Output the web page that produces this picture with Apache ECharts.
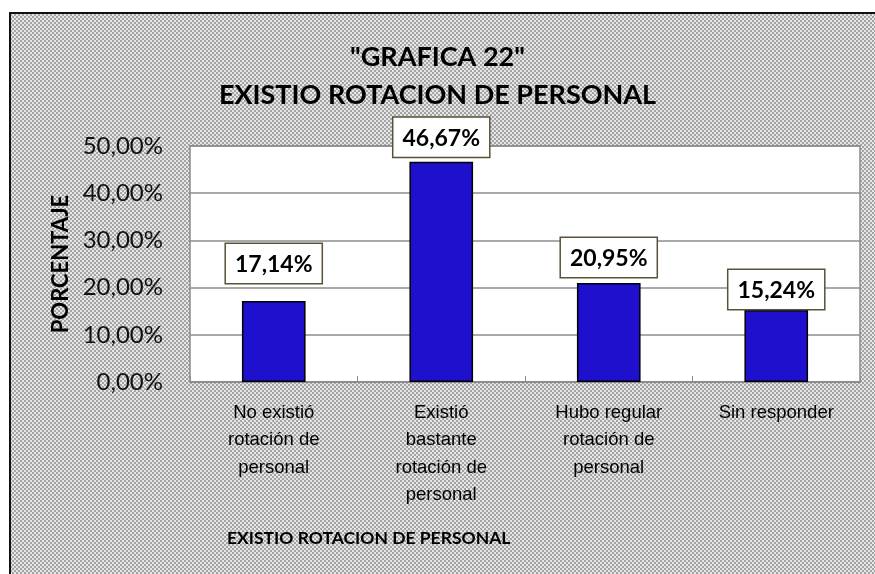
<!DOCTYPE html>
<html>
<head>
<meta charset="utf-8">
<script src="https://cdn.jsdelivr.net/npm/echarts@6/dist/echarts.min.js"></script>
<style>
  html, body { margin: 0; padding: 0; background: #fff; }
  #chart { width: 875px; height: 574px; }
</style>
</head>
<body>
<div id="chart"></div>
<script>
// datos de la grafica
const categories = [
  'No existió\nrotación de\npersonal',
  'Existió\nbastante\nrotación de\npersonal',
  'Hubo regular\nrotación de\npersonal',
  'Sin responder'
];
const values = [17.14, 46.67, 20.95, 15.24];
const yTicks = [0, 10, 20, 30, 40, 50];

// separacion de cada etiqueta respecto a la barra (estilo)
const labelGap = [18, 5, 6, 1];

const fmt = (v) => v.toFixed(2).replace('.', ',') + '%';

// fondo punteado gris
const tile = document.createElement('canvas');
tile.width = 4;
tile.height = 4;
const tctx = tile.getContext('2d');
tctx.fillStyle = '#e6e6e6';
tctx.fillRect(0, 0, 4, 4);
tctx.fillStyle = '#a4a4a4';
tctx.fillRect(0, 0, 2, 2);
tctx.fillRect(2, 2, 2, 2);

const chart = echarts.init(document.getElementById('chart'));

const titleFont = 'Lato';

chart.setOption({
  animation: false,
  backgroundColor: '#fff',
  graphic: [
    {
      type: 'rect',
      z: -10,
      shape: { x: 10, y: 13, width: 880, height: 580 },
      style: { fill: { image: tile, repeat: 'repeat' }, stroke: '#111', lineWidth: 2 }
    },
    {
      type: 'text',
      z: 100,
      left: 227,
      top: 529,
      style: {
        text: 'EXISTIO ROTACION DE PERSONAL',
        font: 'bold 17.5px ' + titleFont,
        fill: '#000'
      }
    }
  ],
  title: {
    text: '"GRAFICA 22"\nEXISTIO ROTACION DE PERSONAL',
    left: 'center',
    top: 33,
    textStyle: {
      fontFamily: titleFont,
      fontWeight: 'bold',
      fontSize: 27,
      lineHeight: 38,
      color: '#000'
    }
  },
  grid: {
    left: 190,
    top: 146,
    right: 15,
    bottom: 192,
    show: true,
    backgroundColor: '#fff',
    borderColor: '#8c8c8c',
    borderWidth: 1.5
  },
  xAxis: {
    type: 'category',
    data: categories,
    axisLine: { lineStyle: { color: '#8c8c8c', width: 1.5 } },
    axisTick: { show: true, inside: true, length: 6, lineStyle: { color: '#8c8c8c' } },
    axisLabel: {
      interval: 0,
      margin: 17,
      fontFamily: '"Liberation Sans", Arial',
      fontSize: 18.5,
      lineHeight: 27.5,
      color: '#000',
      align: 'center',
      verticalAlign: 'top'
    }
  },
  yAxis: {
    type: 'value',
    min: yTicks[0],
    max: yTicks[yTicks.length - 1],
    interval: yTicks[1] - yTicks[0],
    name: 'PORCENTAJE',
    nameLocation: 'middle',
    nameRotate: 90,
    nameGap: 118,
    nameTextStyle: {
      fontFamily: titleFont,
      fontWeight: 'bold',
      fontSize: 22,
      color: '#000'
    },
    axisLine: { show: false },
    axisTick: { show: false },
    splitLine: { lineStyle: { color: '#8c8c8c', width: 1.5 } },
    axisLabel: {
      margin: 27,
      fontFamily: titleFont,
      fontSize: 24,
      color: '#111',
      formatter: (v) => fmt(v)
    }
  },
  series: [
    {
      type: 'bar',
      barWidth: '38%',
      data: values.map((v, i) => ({
        value: v,
        label: { distance: labelGap[i] }
      })),
      itemStyle: {
        color: '#1e10cc',
        borderColor: '#000',
        borderWidth: 1.5
      },
      label: {
        show: true,
        position: 'top',
        formatter: (p) => fmt(p.value),
        fontFamily: titleFont,
        fontWeight: 'bold',
        fontSize: 23,
        color: '#000',
        backgroundColor: '#fff',
        borderColor: '#5a5236',
        borderWidth: 1.5,
        padding: [9, 9, 7, 9]
      }
    }
  ]
});
</script>
</body>
</html>
